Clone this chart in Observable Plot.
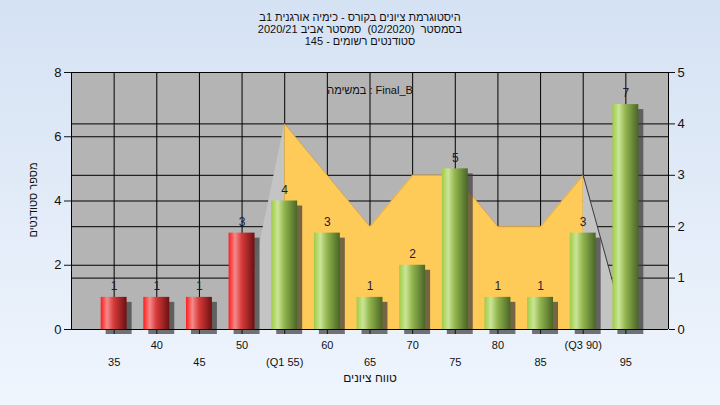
<!DOCTYPE html>
<html>
<head>
<meta charset="utf-8">
<script src="https://cdn.jsdelivr.net/npm/d3@7"></script>
<script src="https://cdn.jsdelivr.net/npm/@observablehq/plot@0.6"></script>
<style>
  html, body { margin: 0; padding: 0; }
  #wrap {
    position: relative;
    width: 720px; height: 405px; overflow: hidden;
    background: linear-gradient(to bottom, #d5e2f3, #eff5fd);
    font-family: "Liberation Sans", "DejaVu Sans", sans-serif;
  }
  #title {
    height: 50px; box-sizing: border-box; padding-top: 11px;
    text-align: center; font-size: 11px; line-height: 12px; color: #111;
  }
  #title div { direction: rtl; white-space: pre; }
  #ytitle {
    position: absolute; left: 33px; top: 200px;
    transform: translate(-50%, -50%) rotate(-90deg);
    white-space: nowrap; direction: rtl; font-size: 11px; line-height: 12px; color: #111;
  }
  svg { display: block; }
</style>
</head>
<body>
<div id="wrap">
  <div id="title">
    <div>היסטוגרמת ציונים בקורס - כימיה אורגנית 1ב</div>
    <div>בסמסטר  (02/2020)  סמסטר אביב 2020/21</div>
    <div>סטודנטים רשומים - 145</div>
  </div>
  <div id="chart"></div>
  <div id="ytitle"></div>
</div>
<script>
// ---- data ----
const xTicks = [35, 40, 45, 50, 55, 60, 65, 70, 75, 80, 85, 90, 95];
const xLabels = ["35", "40", "45", "50", "(Q1 55)", "60", "65", "70", "75", "80", "85", "(Q3 90)", "95"];
const counts = [1, 1, 1, 3, 4, 3, 1, 2, 5, 1, 1, 3, 7];
const passGrade = 55;
const curveX = [50, 55, 60, 65, 70, 75, 80, 85, 90, 95];
const curveV = [0, 4, 3, 2, 3, 3, 2, 2, 3, 0];
const q1 = 55, q3 = 90;
const leftTicks = [0, 2, 4, 6, 8];
const rightTicks = [0, 1, 2, 3, 4, 5];
const leftMax = 8, rightMax = 5;
const legendText = "במשימה : Final_B";
const xTitle = "טווח ציונים";
const yTitle = "מספר סטודנטים";

// ---- derived ----
const k = leftMax / rightMax;
const hw = 1.52;
const bars = xTicks.map((x, i) => ({x, n: counts[i]}));
const redBars = bars.filter(d => d.x < passGrade);
const greenBars = bars.filter(d => d.x >= passGrade);
const curve = curveX.map((x, i) => ({x, v: curveV[i] * k}));
const inner = curve.filter(d => d.x >= q1 && d.x <= q3);
const leftTail = curve.filter(d => d.x <= q1);
const rightTail = curve.filter(d => d.x >= q3);
const labelOf = d => xLabels[xTicks.indexOf(d)];

const svg = Plot.plot({
  width: 720,
  height: 355,
  marginTop: 22,
  marginBottom: 76,
  marginLeft: 71,
  marginRight: 52,
  style: {background: "transparent", color: "#111", fontFamily: "'Liberation Sans', 'DejaVu Sans', sans-serif", fontSize: "11px"},
  x: {domain: [30, 100]},
  y: {domain: [0, leftMax]},
  marks: [
    Plot.frame({fill: "#b4b4b4"}),
    Plot.ruleX(xTicks, {stroke: "#000"}),
    Plot.ruleY(leftTicks.filter(t => t > 0), {stroke: "#000"}),
    Plot.ruleY(rightTicks.filter(t => t > 0 && t < rightMax).map(t => t * k), {stroke: "#000"}),
    Plot.areaY(leftTail, {x: "x", y: "v", fill: "#c4c4c4"}),
    Plot.areaY(rightTail, {x: "x", y: "v", fill: "#c4c4c4"}),
    Plot.areaY(inner, {x: "x", y: "v", fill: "#ffcb58"}),
    Plot.line(inner, {x: "x", y: "v", stroke: "#d0a04c", strokeWidth: 0.8}),
    Plot.line(rightTail, {x: "x", y: "v", stroke: "#3a3a3a", strokeWidth: 1}),
    Plot.rectY(bars, {x1: d => d.x - hw, x2: d => d.x + hw, y: "n", fill: "#3a3a3a", fillOpacity: 0.7, dx: 5, dy: 5, ariaLabel: "shadow"}),
    Plot.rectY(redBars, {x1: d => d.x - hw, x2: d => d.x + hw, y: "n", fill: "url(#gRed)"}),
    Plot.rectY(greenBars, {x1: d => d.x - hw, x2: d => d.x + hw, y: "n", fill: "url(#gGreen)"}),
    Plot.ruleX([30, 100], {stroke: "#000"}),
    Plot.ruleY([0], {stroke: "#000"}),
    Plot.axisY({ticks: leftTicks, tickSize: 7, tickPadding: 3, fontSize: 13, label: null}),
    Plot.axisY({anchor: "right", ticks: rightTicks.map(t => t * k), tickFormat: d => Math.round(d / k), tickSize: 6, tickPadding: 3, fontSize: 13, label: null}),
    Plot.axisX({ticks: xTicks, tickSize: 5, tickFormat: () => "", label: null}),
    Plot.axisX({ticks: xTicks.filter((d, i) => i % 2 === 1), tickSize: 0, tickPadding: 12, tickFormat: labelOf, fontSize: 11, label: null}),
    Plot.axisX({ticks: xTicks.filter((d, i) => i % 2 === 0), tickSize: 0, tickPadding: 29, tickFormat: labelOf, fontSize: 11, label: null}),
    Plot.text(bars, {x: "x", y: "n", text: "n", dy: -11, fontSize: 12, fill: "#1c1c3a"}),
    Plot.text([legendText], {frameAnchor: "top", dy: 14, fontSize: 11, fill: "#111"}),
    Plot.text([xTitle], {frameAnchor: "bottom", dy: 52, fontSize: 12, fill: "#111"})
  ]
});

const s = d3.select(svg);
s.insert("defs", ":first-child").html(`
  <linearGradient id="gRed" x1="0" x2="1" y1="0" y2="0">
    <stop offset="0" stop-color="#ff1c1c"/>
    <stop offset="0.25" stop-color="#f48a8a"/>
    <stop offset="0.5" stop-color="#d83a3a"/>
    <stop offset="1" stop-color="#6c1010"/>
  </linearGradient>
  <linearGradient id="gGreen" x1="0" x2="1" y1="0" y2="0">
    <stop offset="0" stop-color="#9fcc46"/>
    <stop offset="0.25" stop-color="#cbe597"/>
    <stop offset="0.5" stop-color="#92b64e"/>
    <stop offset="1" stop-color="#4a6526"/>
  </linearGradient>
  <filter id="blurShadow" x="-50%" y="-50%" width="200%" height="200%">
    <feGaussianBlur stdDeviation="3"/>
  </filter>`);
s.select('g[aria-label="shadow"]').attr("filter", "url(#blurShadow)");
document.getElementById("chart").appendChild(svg);
document.getElementById("ytitle").textContent = yTitle;
</script>
</body>
</html>
